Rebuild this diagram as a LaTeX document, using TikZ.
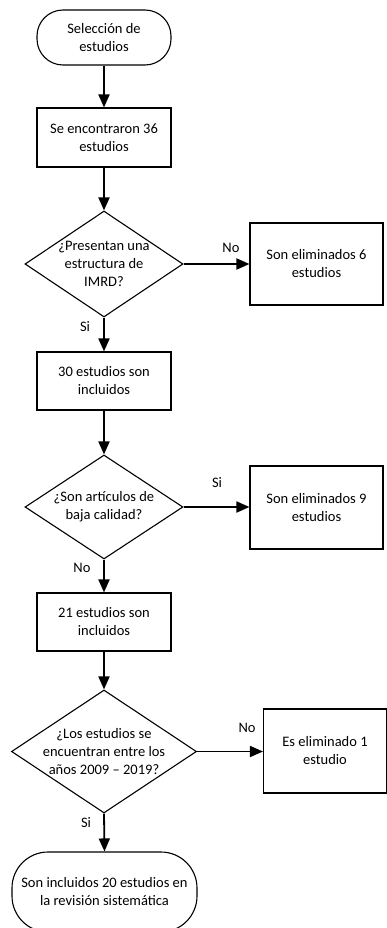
\documentclass[tikz,border=0pt]{standalone}
\usepackage{fontspec}
\setmainfont{Carlito}
\usetikzlibrary{arrows.meta,shapes.geometric}
\begin{document}
\begin{tikzpicture}[x=1pt,y=-1pt,
  font=\fontsize{14.5}{18}\selectfont,
  box/.style={draw,line width=1.1pt,rectangle,inner sep=0pt,align=center},
  term/.style={draw,line width=1.1pt,rectangle,rounded corners=#1,inner sep=0pt,align=center},
  dia/.style={draw,line width=1.1pt,diamond,inner sep=0pt},
  txt/.style={inner sep=0pt,align=center},
  lbl/.style={inner sep=0pt},
  arr/.style={line width=1.8pt,-{Triangle[length=13pt,width=11pt]}}]
\useasboundingbox (0,0) rectangle (387,928);
\node[term=26pt,minimum width=134pt,minimum height=55pt] (s) at (104,37.5) {Selección de\\estudios};
\node[box,minimum width=134pt,minimum height=59pt] (b1) at (104,137.5) {Se encontraron 36\\estudios};
\node[dia,minimum width=158pt,minimum height=106pt] (d1) at (104,264) {};
\node[txt] (d1t) at (d1.center) {¿Presentan una\\estructura de\\IMRD?};
\node[box,minimum width=133pt,minimum height=82pt] (r1) at (316.5,264) {Son eliminados 6\\estudios};
\node[box,minimum width=134pt,minimum height=58pt] (b2) at (104,381) {30 estudios son\\incluidos};
\node[dia,minimum width=158pt,minimum height=104pt] (d2) at (104,507) {};
\node[txt] (d2t) at (d2.center) {¿Son artículos de\\baja calidad?};
\node[box,minimum width=133pt,minimum height=83pt] (r2) at (316.5,507.5) {Son eliminados 9\\estudios};
\node[box,minimum width=134pt,minimum height=58pt] (b3) at (104,622) {21 estudios son\\incluidos};
\node[dia,minimum width=185pt,minimum height=123pt] (d3) at (104,751.5) {};
\node[txt] (d3t) at (d3.center) {¿Los estudios se\\encuentran entre los\\años 2009 – 2019?};
\node[box,minimum width=123pt,minimum height=84pt] (r3) at (325,751) {Es eliminado 1\\estudio};
\node[term=36pt,minimum width=185pt,minimum height=80pt] (e) at (104.5,892) {Son incluidos 20 estudios en\\la revisión sistemática};
\draw[arr] (s) -- (b1);
\draw[arr] (b1) -- (d1);
\draw[arr] (d1.east) -- (r1.west);
\draw[arr] (d1.south) -- (b2.north);
\draw[arr] (b2) -- (d2);
\draw[arr] (d2.east) -- (r2.west |- d2.east);
\draw[arr] (d2.south) -- (b3.north);
\draw[arr] (b3) -- (d3);
\draw[arr] (d3.east) -- (r3.west |- d3.east);
\draw[arr] (d3.south) -- (e.north);
\node[lbl] (l1) at (231,248) {No};
\node[lbl] (l2) at (85,327) {Si};
\node[lbl] (l3) at (217,483) {Si};
\node[lbl] (l4) at (82,568) {No};
\node[lbl] (l5) at (247,728) {No};
\node[lbl] (l6) at (86,823) {Si};
\end{tikzpicture}
\end{document}
